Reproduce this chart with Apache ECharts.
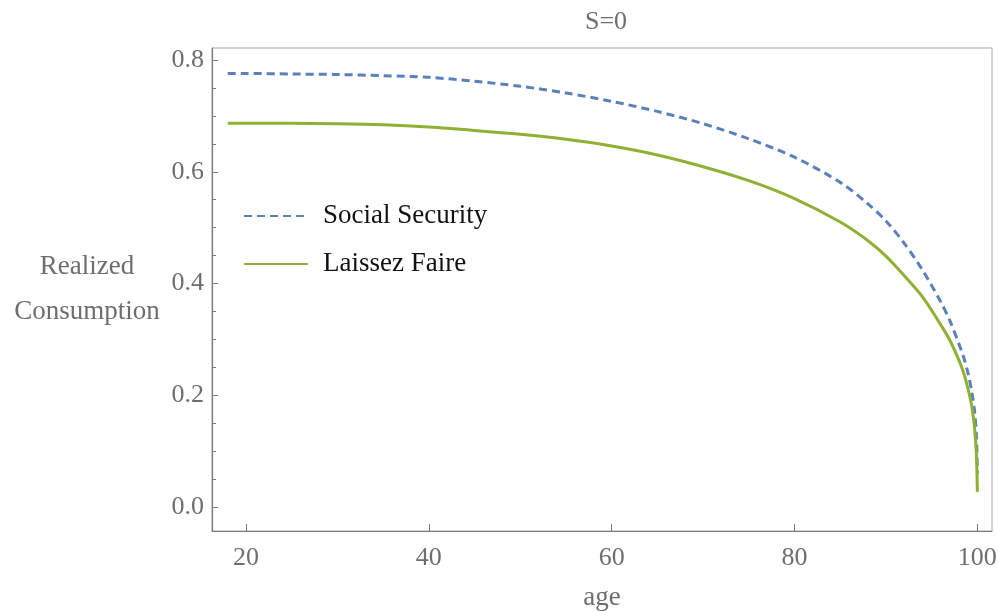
<!DOCTYPE html>
<html>
<head>
<meta charset="utf-8">
<script src="https://cdn.jsdelivr.net/npm/echarts@6/dist/echarts.min.js"></script>
<style>
  html, body { margin: 0; padding: 0; background: #fff; }
  #main { width: 998px; height: 611px; }
</style>
</head>
<body>
<div id="main"></div>
<script>
// ages and values
var ages = [18, 20, 25, 30, 35, 40, 45, 50, 55, 60, 65, 70, 75, 80, 85, 88, 90, 92, 94, 96, 97, 98, 98.5, 99, 99.4, 99.7, 99.9, 100];
var socialSecurity = [0.776, 0.776, 0.775, 0.774, 0.772, 0.769, 0.762, 0.753, 0.741, 0.726, 0.708, 0.686, 0.659, 0.626, 0.581, 0.543, 0.512, 0.472, 0.424, 0.367, 0.333, 0.291, 0.268, 0.238, 0.205, 0.170, 0.125, 0.060];
var laissezFaire = [0.687, 0.687, 0.687, 0.686, 0.684, 0.680, 0.674, 0.667, 0.658, 0.646, 0.630, 0.609, 0.584, 0.552, 0.510, 0.477, 0.449, 0.414, 0.376, 0.326, 0.298, 0.262, 0.240, 0.210, 0.179, 0.140, 0.092, 0.027];

var xTicks = [20, 40, 60, 80, 100];
var yTicks = [0, 0.2, 0.4, 0.6, 0.8];
var yMinor = [0.05, 0.1, 0.15, 0.25, 0.3, 0.35, 0.45, 0.5, 0.55, 0.65, 0.7, 0.75];

function pairs(xs, ys) {
  var out = [];
  for (var i = 0; i < xs.length; i++) {
    out.push([xs[i], ys[i]]);
  }
  return out;
}

var serif = "Liberation Serif";
var gray = "#6e6e6e";

var myChart = echarts.init(document.getElementById("main"));
var option = {
  animation: false,
  backgroundColor: "#fff",
  title: {
    text: "S=0",
    left: 601,
    top: 4,
    textAlign: "center",
    textStyle: { fontFamily: serif, fontWeight: "normal", fontSize: 26, color: gray },
  },
  legend: {
    left: 243,
    top: 201,
    padding: 0,
    orient: "vertical",
    itemWidth: 64,
    itemHeight: 2,
    itemGap: 18,
    itemStyle: { opacity: 0 },
    textStyle: { fontFamily: serif, fontSize: 27, color: "#111", lineHeight: 30, padding: [0, 0, 0, 10] },
    data: ["Social Security", "Laissez Faire"],
  },
  grid: {
    left: 212,
    top: 48,
    right: 6,
    bottom: 80,
    outerBoundsMode: "none",
    show: true,
    borderColor: "#a8a8a8",
    borderWidth: 1,
  },
  xAxis: {
    type: "value",
    min: 16.28,
    max: 101.6,
    name: "age",
    nameLocation: "middle",
    nameGap: 67,
    nameTextStyle: { fontFamily: serif, fontSize: 27, color: gray, verticalAlign: "middle" },
    axisLine: { onZero: false, lineStyle: { color: "#7a7a7a", width: 1.2 } },
    axisTick: { inside: true, length: 7, lineStyle: { color: "#7a7a7a" }, customValues: xTicks },
    axisLabel: { fontFamily: serif, fontSize: 26, color: gray, margin: 14, customValues: xTicks },
    splitLine: { show: false },
  },
  yAxis: [
    {
      type: "value",
      min: -0.043,
      max: 0.8215,
      name: "Realized\nConsumption",
      nameLocation: "middle",
      nameRotate: 0,
      nameGap: 125,
      nameTextStyle: { fontFamily: serif, fontSize: 27, color: gray, align: "center", verticalAlign: "middle", lineHeight: 45 },
      axisLine: { show: true, lineStyle: { color: "#7a7a7a", width: 1.2 } },
      axisTick: { show: true, inside: true, length: 6, lineStyle: { color: "#7a7a7a" }, customValues: yTicks },
      axisLabel: {
        fontFamily: serif,
        fontSize: 26,
        color: gray,
        margin: 8,
        customValues: yTicks,
        formatter: function (v) { return v.toFixed(1); },
      },
      splitLine: { show: false },
    },
    {
      type: "value",
      min: -0.043,
      max: 0.8215,
      position: "left",
      axisLine: { show: false },
      axisTick: { show: true, inside: true, length: 4, lineStyle: { color: "#7a7a7a" }, customValues: yMinor },
      axisLabel: { show: false },
      splitLine: { show: false },
    },
  ],
  series: [
    {
      name: "Social Security",
      type: "line",
      data: pairs(ages, socialSecurity),
      showSymbol: false,
      symbol: "none",
      smooth: 0.3,
      color: "#5b80ba",
      lineStyle: { color: "#5b80ba", width: 3, type: [8, 5] },
      z: 3,
    },
    {
      name: "Laissez Faire",
      type: "line",
      data: pairs(ages, laissezFaire),
      showSymbol: false,
      symbol: "none",
      smooth: 0.3,
      color: "#8fb032",
      lineStyle: { color: "#8fb032", width: 3 },
      z: 4,
    },
  ],
};
option && myChart.setOption(option);
</script>
</body>
</html>
